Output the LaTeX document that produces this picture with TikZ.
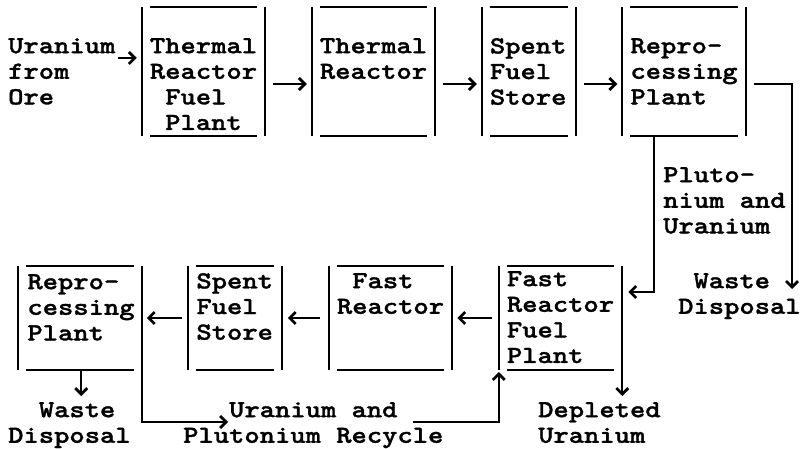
\documentclass[tikz,border=0pt]{standalone}
\usepackage{fontspec}
\newfontfamily\courfont[FakeStretch=1.19,FakeBold=1.3]{lmmonolt10-bold.otf}
\usetikzlibrary{arrows.meta,positioning}
\newcommand{\labfont}{\courfont\fontsize{24.5}{25.6}\selectfont}

\begin{document}
\begin{tikzpicture}[
    x=1pt, y=-1pt,
    node distance=130pt and 46.5pt,
    frame/.style={inner sep=0pt, outer sep=0pt, minimum width=123.5pt, minimum height=129pt},
    narrow/.style={minimum width=94pt},
    low/.style={minimum height=104pt},
    txt/.style={font=\labfont, align=left, inner sep=0pt, anchor=north west},
    rule/.style={line width=2.4pt},
    line/.style={-{Straight Barb[length=6pt,width=12pt,line width=2.8pt]}, line width=2.2pt}
]
    \useasboundingbox (0,0) rectangle (800,449);

    % fuel cycle, thermal part
    \node[frame] (tfp) at (203.5,71.5) {};
    \node[frame, right=of tfp] (tr) {};
    \node[frame, narrow, right=of tr] (sfs) {};
    \node[frame, right=of sfs] (rp) {};

    % fuel cycle, fast part
    \node[frame, low, below=of rp.south west, anchor=north east] (frfp) {};
    \node[frame, low, left=of frfp] (fr) {};
    \node[frame, low, narrow, left=of fr] (sfsb) {};
    \node[frame, low, left=of sfsb] (rpb) {};

    \foreach \b in {tfp,tr,sfs,rp,frfp,fr,sfsb,rpb}{
        \draw[rule] (\b.north west) -- (\b.south west) (\b.north east) -- (\b.south east);
        \draw[rule] ([xshift=8pt]\b.north west) -- ([xshift=-8pt]\b.north east)
                    ([xshift=8pt]\b.south west) -- ([xshift=-8pt]\b.south east);
    }

    \node[txt] at ([shift={(8,31)}]tfp.north west) (tfpt) {Thermal\\Reactor\\~Fuel\\~Plant};
    \node[txt] at ([shift={(8,31)}]tr.north west) (trt) {Thermal\\Reactor};
    \node[txt] at ([shift={(8,31)}]sfs.north west) (sfst) {Spent\\Fuel\\Store};
    \node[txt] at ([shift={(8,31)}]rp.north west) (rpt) {Repro-\\cessing\\Plant};
    \node[txt] at ([shift={(8,5)}]frfp.north west) (frfpt) {Fast\\Reactor\\Fuel\\Plant};
    \node[txt] at ([shift={(8,7)}]fr.north west) (frt) {~Fast\\Reactor};
    \node[txt] at ([shift={(8,7)}]sfsb.north west) (sfsbt) {Spent\\Fuel\\Store};
    \node[txt] at ([shift={(9,8)}]rpb.north west) (rpbt) {Repro-\\cessing\\Plant};

    \node[txt] (ore) at (8,38) {Uranium\\from\\Ore};
    \node[txt] (pu) at (663,167) {Pluto-\\nium and\\Uranium};
    \node[txt] (waste) at (678,273) {~Waste\\Disposal};
    \node[txt] (wasteb) at (8,402) {~~Waste\\Disposal};
    \node[txt, align=center] (rec) at (183,402) {Uranium and\\Plutonium Recycle};
    \node[txt] (depl) at (538,402) {Depleted\\Uranium};

    \coordinate (orearr) at (118,58);
    \coordinate (wst) at (792,289);
    \coordinate (recin) at (228,422);
    \coordinate (recout) at (413,422);

    \draw[line] (orearr) -- ([xshift=-5pt]tfp.west |- orearr);
    \draw[line] ([shift={(8,12.5)}]tfp.east) -- ([shift={(-5,12.5)}]tr.west);
    \draw[line] ([shift={(8,12.5)}]tr.east) -- ([shift={(-5,12.5)}]sfs.west);
    \draw[line] ([shift={(8,12.5)}]sfs.east) -- ([shift={(-5,12.5)}]rp.west);
    \draw[line] ([shift={(8,12.5)}]rp.east) -| (wst);
    \draw[line] ([xshift=31.5pt]rp.south west) |- ([shift={(6,26)}]frfp.north east);

    \draw[line] ([xshift=-7pt]frfp.west) -- ([xshift=5pt]fr.east);
    \draw[line] ([xshift=-9pt]fr.west) -- ([xshift=5.5pt]sfsb.east);
    \draw[line] ([xshift=-6.5pt]sfsb.west) -- ([xshift=5pt]rpb.east);
    \draw[line] ([xshift=63pt]rpb.south west) -- ([shift={(63,-6)}]rpb.south west |- wasteb.north);
    \draw[line] (rpb.south east) |- (recin);
    \draw[line] (recout) -| ([shift={(0,2)}]frfp.south west);
    \draw[line] (frfp.south east) -- ([shift={(0,-6)}]frfp.south east |- depl.north);
\end{tikzpicture}
\end{document}
